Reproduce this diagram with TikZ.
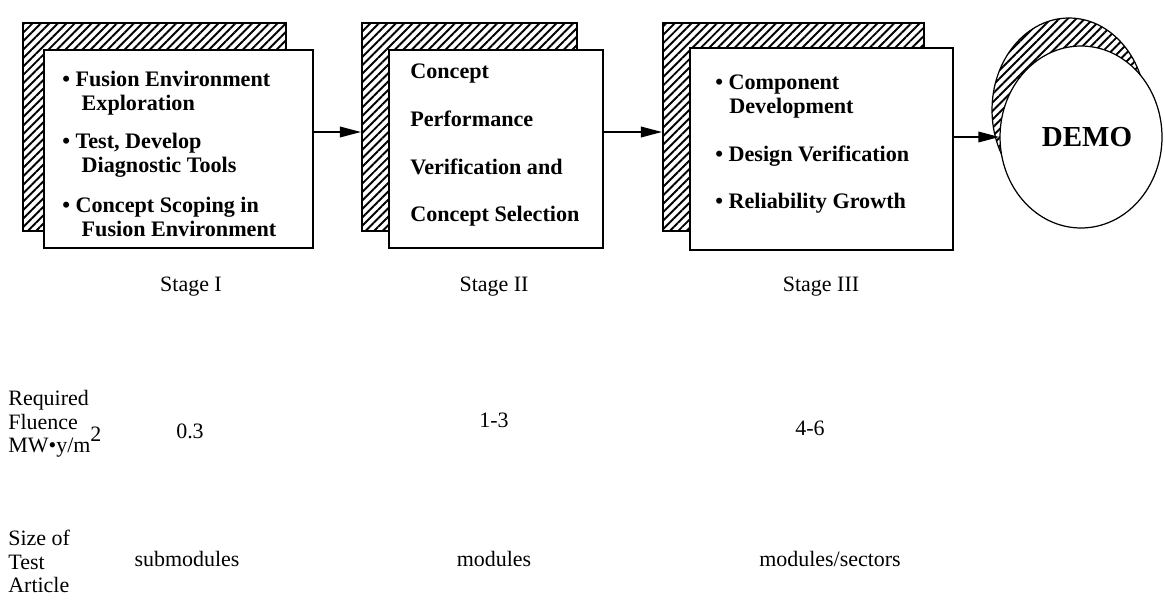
\documentclass[tikz,border=0pt]{standalone}
\usepackage{fontspec}
\setmainfont{Liberation Serif}
\usetikzlibrary{shapes.geometric, arrows.meta, patterns.meta, positioning}
\newcommand{\bul}{\textbullet\ }

\begin{document}
\begin{tikzpicture}[x=0.02cm, y=-0.02cm,
  shadow/.style={draw, line width=1.1pt, inner sep=0pt,
    pattern={Lines[angle=45, distance=3.4pt, line width=1.1pt]}},
  front/.style={draw, line width=0.9pt, fill=white, inner sep=0pt},
  boxtext/.style={anchor=north west, align=left, inner sep=0pt, font=\fontsize{12.6}{13.6}\selectfont\bfseries},
  plain/.style={inner sep=0pt, font=\fontsize{12.5}{13.4}\selectfont},
  arrow/.style={-{Triangle[length=12pt, width=6pt]}, line width=1pt}
]
  \useasboundingbox (0,0) rectangle (1165,605);

  % Stage I
  \node[shadow, minimum width=5.26cm, minimum height=4.16cm] (back1) at (154.5,127) {};
  \node[front, minimum width=5.38cm, minimum height=3.96cm] (front1) at (178.5,149) {};
  \node[boxtext] (txt1) at (62,70.5) {
    \bul Fusion Environment\\\hspace*{11pt}Exploration\\[8.5pt]
    \bul Test, Develop\\\hspace*{11pt}Diagnostic Tools\\[9pt]
    \bul Concept Scoping in\\\hspace*{11pt}Fusion Environment};

  % Stage II
  \node[shadow, minimum width=4.3cm, minimum height=4.16cm] (back2) at (469.5,127) {};
  \node[front, minimum width=4.28cm, minimum height=3.96cm] (front2) at (496,149) {};
  \node[boxtext] (txt2) at (410,63.5) {
    Concept\\[13.6pt]Performance\\[13.6pt]Verification and\\[13.6pt]Concept Selection};

  % Stage III
  \node[shadow, minimum width=5.22cm, minimum height=4.16cm] (back3) at (793.5,127) {};
  \node[front, minimum width=5.26cm, minimum height=4.04cm] (front3) at (821.5,149) {};
  \node[boxtext] (txt3) at (715,74.5) {
    \bul Component\\\hspace*{8pt}Development\\[13.6pt]
    \bul Design Verification\\[13.6pt]
    \bul Reliability Growth};

  % DEMO
  \node[ellipse, shadow, line width=0.7pt, minimum width=3.08cm, minimum height=3.68cm] (demoback) at (1069,110) {};
  \node[ellipse, front, line width=0.7pt, minimum width=3.24cm, minimum height=3.64cm,
    font=\fontsize{16.5}{18}\selectfont\bfseries] (demo) at (1081,137) {\hspace*{0.24cm}DEMO};

  \draw[arrow] ([yshift=0.34cm]front1.east) -- ([yshift=-0.1cm]back2.west);
  \draw[arrow] ([yshift=0.34cm]front2.east) -- ([yshift=-0.1cm]back3.west);
  \draw[arrow] (front3.east |- demo.west) -- (demo.west);

  % Stage names
  \node[plain, anchor=base] (stage1) at (191,291) {Stage I};
  \node[plain, anchor=base] (stage2) at (494,291) {Stage II};
  \node[plain, anchor=base] (stage3) at (821,291) {Stage III};

  % Fluence row
  \node[plain, anchor=north west, align=left] (fluence) at (8,390)
    {Required\\Fluence\\MW\textbullet y/m\smash{\raisebox{6.5pt}{2}}};
  \node[plain, anchor=base] (flu1) at (190,438) {0.3};
  \node[plain, anchor=base] (flu2) at (494,427) {1-3};
  \node[plain, anchor=base] (flu3) at (810,435) {4-6};

  % Size row
  \node[plain, anchor=north west, align=left] (size) at (8,530) {Size of\\Test\\Article};
  \node[plain, anchor=base] (size1) at (187,566) {submodules};
  \node[plain, anchor=base] (size2) at (494,566) {modules};
  \node[plain, anchor=base] (size3) at (830,566) {modules/sectors};
\end{tikzpicture}
\end{document}
